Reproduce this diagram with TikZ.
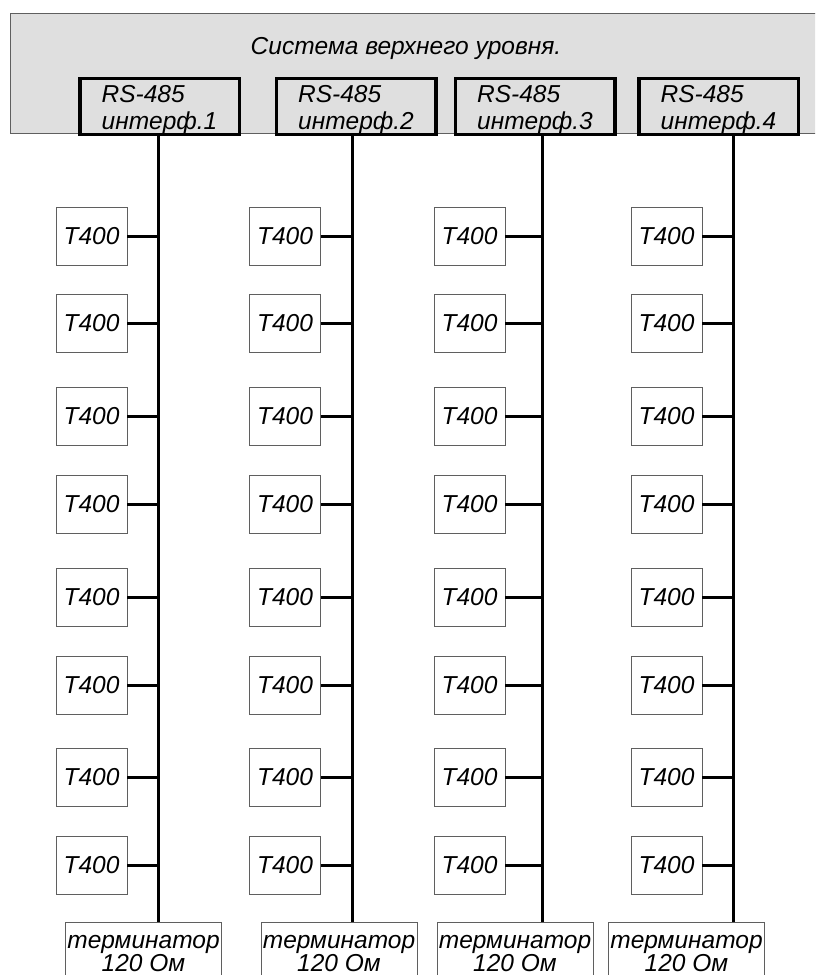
\documentclass[tikz,border=0pt]{standalone}
\usepackage{fontspec}
\setmainfont{Liberation Sans}
\usepackage{xcolor}
\definecolor{fon}{RGB}{223,223,223}
\definecolor{kontur}{RGB}{95,95,95}
\tikzset{
  shrift/.style={font=\itshape\fontsize{24.5}{27}\selectfont},
  sistema/.style={draw=kontur, line width=0.8pt, fill=fon, minimum width=810pt, minimum height=120pt, inner sep=0pt},
  interf/.style={shrift, draw=black, line width=3.5pt, fill=fon, minimum width=159.5pt, minimum height=51.5pt, inner sep=0pt, align=left},
  modul/.style={shrift, draw=kontur, line width=0.8pt, minimum width=71pt, minimum height=58pt, inner sep=0pt},
  term/.style={shrift, draw=kontur, line width=0.8pt, minimum width=156pt, minimum height=62pt, inner sep=0pt, anchor=north, align=center, font=\itshape\fontsize{24.5}{23.5}\selectfont},
  shina/.style={draw=black, line width=3pt}
}

\begin{document}
\begin{tikzpicture}[x=1pt, y=-1pt]
    \useasboundingbox (0,0) rectangle (815,975);
    \clip (0,0) rectangle (815,975);
    % verkhnii uroven
    \node[sistema] (sys) at (415,73) {};
    \node[shrift] (titul) at (406,48) {Система верхнего уровня.};
    % interfeisy RS-485
    \node[interf] (rs1) at (159.5,106.5) {\rule{0pt}{24pt}RS-485\\интерф.1};
    \node[interf] (rs2) at (356,106.5) {\rule{0pt}{24pt}RS-485\\интерф.2};
    \node[interf] (rs3) at (535,106.5) {\rule{0pt}{24pt}RS-485\\интерф.3};
    \node[interf] (rs4) at (718.5,106.5) {\rule{0pt}{24pt}RS-485\\интерф.4};
    \coordinate (shina1) at (158,134);
    \coordinate (shina2) at (352,134);
    \coordinate (shina3) at (542,134);
    \coordinate (shina4) at (733,134);
    % terminatory
    \node[term] (term1) at (143.5,922) {терминатор\\120 Ом};
    \node[term] (term2) at (339,922) {терминатор\\120 Ом};
    \node[term] (term3) at (515,922) {терминатор\\120 Ом};
    \node[term] (term4) at (686.5,922) {терминатор\\120 Ом};
    \foreach \k in {1,...,4}
      \draw[shina] (shina\k) -- (shina\k |- term\k.north);
    % moduli T400
    \foreach \k/\xm in {1/91.5, 2/285, 3/469.5, 4/666.5}
      \foreach \r/\ym in {1/236, 2/323.5, 3/416.5, 4/504.5, 5/597, 6/685, 7/777.5, 8/865.5} {
        \node[modul] (t\k-\r) at (\xm,\ym) {T400};
        \draw[shina] (t\k-\r.east) -- (t\k-\r.east -| shina\k);
      }
  \end{tikzpicture}
\end{document}
